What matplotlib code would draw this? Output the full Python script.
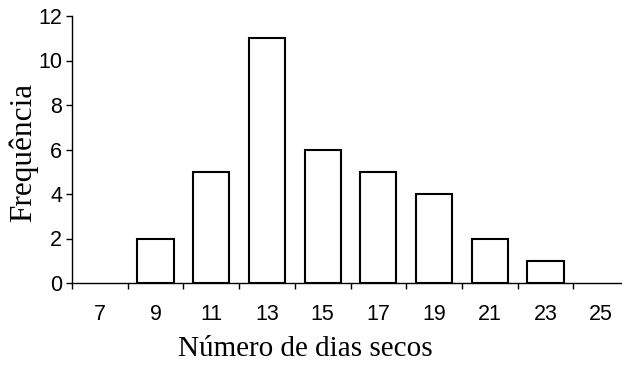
import matplotlib
matplotlib.use("Agg")
import matplotlib.pyplot as plt

categories = ["7", "9", "11", "13", "15", "17", "19", "21", "23", "25"]
freq = [0, 2, 5, 11, 6, 5, 4, 2, 1, 0]
yticks = [0, 2, 4, 6, 8, 10, 12]

W, H = 622, 365
fig = plt.figure(figsize=(W / 100, H / 100), dpi=100)
x0, x1, y0, y1 = 72, 629, 16, 283
ax = fig.add_axes([x0 / W, 1 - y1 / H, (x1 - x0) / W, (y1 - y0) / H])

pos = list(range(len(categories)))
edges = ["black" if f > 0 else "none" for f in freq]
ax.bar(pos, freq, width=0.65, color="white", edgecolor=edges, linewidth=1.5, zorder=3)

ax.set_xlim(-0.5, len(categories) - 0.5)
ax.set_ylim(0, 12)
for s in ["top", "right"]:
    ax.spines[s].set_visible(False)
for s in ["left", "bottom"]:
    ax.spines[s].set_linewidth(1.0)
    ax.spines[s].set_color("black")
    ax.spines[s].set_zorder(4)

ax.set_xticks([p - 0.5 for p in pos])
ax.set_xticklabels([])
ax.set_xticks(pos, minor=True)
ax.set_xticklabels(categories, minor=True, fontfamily="Liberation Sans", fontsize=15.5)
ax.tick_params(axis="x", which="major", direction="out", length=4, width=1)
ax.tick_params(axis="x", which="minor", length=0, pad=15)

ax.set_yticks(yticks)
ax.set_yticklabels([str(v) for v in yticks], fontfamily="Liberation Sans", fontsize=15.5)
ax.tick_params(axis="y", direction="out", length=4, width=1, pad=3)

fig.text(305 / W, 1 - 349 / H, "Número de dias secos", ha="center", va="center",
         fontfamily="Liberation Serif", fontsize=21)
fig.text(23 / W, 1 - 152 / H, "Frequência", ha="center", va="center", rotation=90,
         fontfamily="Liberation Serif", fontsize=22.5)

fig.savefig("out.png", dpi=100)
